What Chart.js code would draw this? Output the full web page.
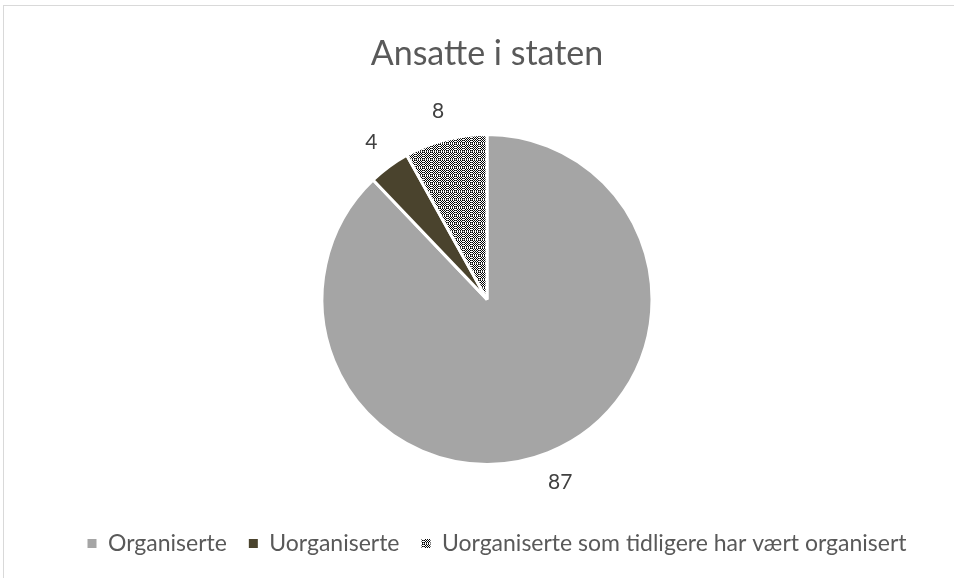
<!DOCTYPE html>
<html>
<head>
<meta charset="utf-8">
<script src="https://cdn.jsdelivr.net/npm/chart.js@4"></script>
<style>
  html, body { margin: 0; padding: 0; background: #fff; }
  #wrap { width: 954px; height: 578px; position: relative; }
</style>
</head>
<body>
<div id="wrap"><canvas id="pie" width="954" height="578"></canvas></div>
<script>
// chart data
const categories = ['Organiserte', 'Uorganiserte', 'Uorganiserte som tidligere har vært organisert'];
const values = [87, 4, 8];
const titleText = 'Ansatte i staten';

// checker pattern for the third slice
function makePattern() {
    const c = document.createElement('canvas');
    c.width = 8; c.height = 8;
    const g = c.getContext('2d');
    g.fillStyle = '#fff';
    g.fillRect(0, 0, 8, 8);
    g.fillStyle = '#000';
    for (let y = 0; y < 8; y++) {
        for (let x = 0; x < 8; x++) {
            if (x === 7 || y === 7) continue; // white grid line
            if ((x + y) % 2 === 0) g.fillRect(x, y, 1, 1);
        }
    }
    g.fillStyle = '#555';
    for (let i = 0; i < 8; i += 2) {
        g.fillRect(7, i, 1, 1);
        g.fillRect(i, 7, 1, 1);
    }
    return c.getContext('2d').createPattern(c, 'repeat');
}

const colors = ['#a5a5a5', '#4a432d', makePattern()];

Chart.defaults.font.family = "Lato, 'Open Sans', sans-serif";

// outer frame like the office chart area
const framePlugin = {
    id: 'frame',
    beforeDraw(chart) {
        const ctx = chart.ctx;
        ctx.save();
        ctx.strokeStyle = '#d9d9d9';
        ctx.lineWidth = 1;
        ctx.strokeRect(3.5, 5.5, 1000, 1000);
        ctx.restore();
    }
};

// the legend in the original sits a bit right of the pie centre
const legendShift = {
    id: 'legendShift',
    afterLayout(chart) {
        chart.legend.left += 10;
        chart.legend.right += 10;
    }
};

// value labels outside the slices
const outsideLabels = {
    id: 'outsideLabels',
    afterDatasetsDraw(chart) {
        const ctx = chart.ctx;
        const meta = chart.getDatasetMeta(0);
        ctx.save();
        ctx.font = "21px Lato, 'Open Sans', sans-serif";
        ctx.fillStyle = '#404040';
        ctx.textAlign = 'center';
        ctx.textBaseline = 'middle';
        meta.data.forEach((arc, i) => {
            const txt = String(values[i]);
            const mid = (arc.startAngle + arc.endAngle) / 2;
            const w = ctx.measureText(txt).width;
            const c = Math.cos(mid), s = Math.sin(mid);
            const ext = Math.abs(c) * w / 2 + Math.abs(s) * 8;
            const r = arc.outerRadius + 20 + ext;
            ctx.fillText(txt, arc.x + c * r, arc.y + s * r);
        });
        ctx.restore();
    }
};

new Chart(document.getElementById('pie'), {
    type: 'pie',
    data: {
        labels: categories,
        datasets: [{
            data: values,
            backgroundColor: colors,
            borderColor: '#ffffff',
            borderWidth: 3,
            radius: 165,
            clip: false
        }]
    },
    options: {
        responsive: false,
        animation: false,
        layout: { padding: { left: 20, right: 0, top: 0, bottom: 13 } },
        plugins: {
            title: {
                display: true,
                text: titleText,
                color: '#595959',
                font: { size: 34, weight: 'normal' },
                padding: { top: 34, bottom: 14 }
            },
            legend: {
                position: 'bottom',
                labels: {
                    color: '#595959',
                    font: { size: 23 },
                    boxWidth: 9,
                    boxHeight: 9,
                    padding: 22,
                    generateLabels(chart) {
                        const items = Chart.overrides.pie.plugins.legend.labels.generateLabels(chart);
                        items.forEach(it => { it.lineWidth = 0; it.strokeStyle = 'rgba(0,0,0,0)'; });
                        return items;
                    }
                }
            },
            tooltip: { enabled: false }
        }
    },
    plugins: [framePlugin, legendShift, outsideLabels]
});
</script>
</body>
</html>
